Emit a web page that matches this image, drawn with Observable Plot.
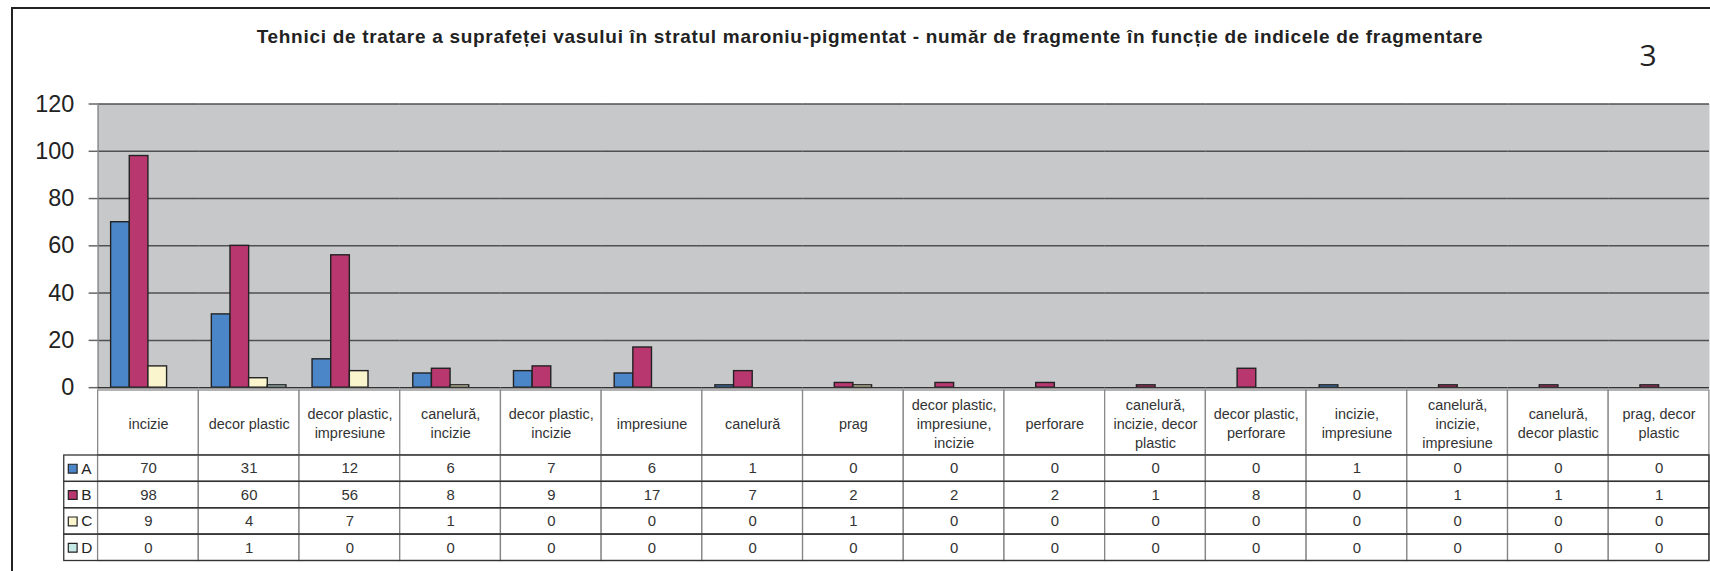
<!DOCTYPE html>
<html>
<head>
<meta charset="utf-8">
<script src="https://cdn.jsdelivr.net/npm/d3@7"></script>
<script src="https://cdn.jsdelivr.net/npm/@observablehq/plot@0.6"></script>
<style>
  html, body { margin: 0; padding: 0; background: #fff; width: 1710px; height: 571px; overflow: hidden; }
  body { position: relative; font-family: "Liberation Sans", Arial, sans-serif; }
  #border { position: absolute; left: 11px; top: 7px; width: 1800px; height: 700px; border: 2px solid #222; box-sizing: border-box; }
  #title { position: absolute; left: 0; top: 27px; width: 1740px; text-align: center; font-weight: bold; font-size: 19px; letter-spacing: 0.7px; line-height: 20px; color: #222; white-space: nowrap; }
  #pagenum { position: absolute; left: 1630px; top: 40px; width: 36px; text-align: center; font-family: "Open Sans", sans-serif; font-size: 30px; line-height: 30px; color: #222; }
  .layer { position: absolute; left: 0; }
  .layer svg { overflow: visible; }
</style>
</head>
<body>
<div id="border"></div>
<div id="title">Tehnici de tratare a suprafeței vasului în stratul maroniu-pigmentat - număr de fragmente în funcție de indicele de fragmentare</div>
<div id="pagenum">3</div>
<div id="chart" class="layer" style="top:0px"></div>
<div id="cats" class="layer" style="top:390px"></div>
<div id="table" class="layer" style="top:455px"></div>
<script>
// ---- data ----
const categories = ["incizie", "decor plastic", "decor plastic, impresiune", "canelură, incizie", "decor plastic, incizie", "impresiune", "canelură", "prag", "decor plastic, impresiune, incizie", "perforare", "canelură, incizie, decor plastic", "decor plastic, perforare", "incizie, impresiune", "canelură, incizie, impresiune", "canelură, decor plastic", "prag, decor plastic"];
const categoryLabels = ["incizie", "decor plastic", "decor plastic,\nimpresiune", "canelură,\nincizie", "decor plastic,\nincizie", "impresiune", "canelură", "prag", "decor plastic,\nimpresiune,\nincizie", "perforare", "canelură,\nincizie, decor\nplastic", "decor plastic,\nperforare", "incizie,\nimpresiune", "canelură,\nincizie,\nimpresiune", "canelură,\ndecor plastic", "prag, decor\nplastic"];
const seriesNames = ["A", "B", "C", "D"];
const valuesA = [70, 31, 12, 6, 7, 6, 1, 0, 0, 0, 0, 0, 1, 0, 0, 0];
const valuesB = [98, 60, 56, 8, 9, 17, 7, 2, 2, 2, 1, 8, 0, 1, 1, 1];
const valuesC = [9, 4, 7, 1, 0, 0, 0, 1, 0, 0, 0, 0, 0, 0, 0, 0];
const valuesD = [0, 1, 0, 0, 0, 0, 0, 0, 0, 0, 0, 0, 0, 0, 0, 0];
const seriesColors = ["#4a86c8", "#b8376f", "#fbf5cd", "#c6e9e7"];
const yTicks = [0, 20, 40, 60, 80, 100, 120];

// ---- build table ----
const seriesValues = [valuesA, valuesB, valuesC, valuesD];
const rows = [];
seriesNames.forEach((s, si) => categories.forEach((c, ci) => rows.push({cat: c, series: s, value: seriesValues[si][ci]})));

const W = 1718, ML = 98, MR = 1;
const font = "Liberation Sans, Arial, sans-serif";

const chart = Plot.plot({
  width: W, height: 390,
  marginLeft: ML, marginRight: MR, marginTop: 104, marginBottom: 1,
  style: {fontFamily: font, background: "transparent"},
  fx: {domain: categories, padding: 0, round: false, axis: null, label: null},
  x: {domain: seriesNames, paddingInner: 0, paddingOuter: 0.7, round: false, axis: null},
  y: {domain: [0, 120], axis: null, label: null},
  color: {domain: seriesNames, range: seriesColors},
  marks: [
    Plot.frame({facet: "super", fill: "#c7c8ca", stroke: null}),
    Plot.gridY(yTicks.slice(1), {stroke: "#505050", strokeOpacity: 1, strokeWidth: 1.5}),
    Plot.frame({facet: "super", anchor: "left", stroke: "#8a8a8a", strokeWidth: 1.5}),
    Plot.axisY(yTicks, {label: null, tickSize: 9, tickPadding: 15, fontSize: 23.5, fill: "#222", stroke: "#666", strokeWidth: 1.5}),
    Plot.barY(rows.filter(d => d.value > 0), {fx: "cat", x: "series", y: "value", fill: "series", stroke: "#222", strokeWidth: 1.4}),
    Plot.ruleY([0], {stroke: "#333", strokeWidth: 1.5})
  ]
});
document.getElementById("chart").appendChild(chart);

const cats = Plot.plot({
  width: W, height: 65,
  marginLeft: ML, marginRight: MR, marginTop: 0, marginBottom: 0,
  style: {fontFamily: font, background: "transparent"},
  x: {domain: categories, padding: 0, round: false, axis: null},
  marks: [
    Plot.cell(categories, {x: d => d, fill: "white", stroke: "#8a8a8a", strokeWidth: 1.3}),
    Plot.text(categories, {x: d => d, text: (d, i) => categoryLabels[i], frameAnchor: "middle", fontSize: 14.5, lineHeight: 1.32, fill: "#333"})
  ]
});
document.getElementById("cats").appendChild(cats);

const table = Plot.plot({
  width: W, height: 106,
  marginLeft: ML, marginRight: MR, marginTop: 0, marginBottom: 0,
  style: {fontFamily: font, background: "transparent"},
  x: {domain: categories, padding: 0, round: false, axis: null},
  y: {domain: seriesNames, padding: 0, round: false, axis: null},
  color: {domain: seriesNames, range: seriesColors},
  marks: [
    Plot.cell(rows, {x: "cat", y: "series", fill: "white", stroke: "#858585", strokeWidth: 1.3}),
    Plot.cell(seriesNames, {y: d => d, insetLeft: -34, fill: "none", stroke: "#333", strokeWidth: 1.3}),
    Plot.text(rows, {x: "cat", y: "series", text: d => String(d.value), fontSize: 15, fill: "#333"}),
    Plot.dot(seriesNames, {y: d => d, frameAnchor: "left", dx: -25.5, symbol: "square", r: 5, fill: d => d, stroke: "#222", strokeWidth: 1.2}),
    Plot.text(seriesNames, {y: d => d, frameAnchor: "left", dx: -17, textAnchor: "start", text: d => d, fontSize: 15.5, fill: "#222"})
  ]
});
document.getElementById("table").appendChild(table);
</script>
</body>
</html>
